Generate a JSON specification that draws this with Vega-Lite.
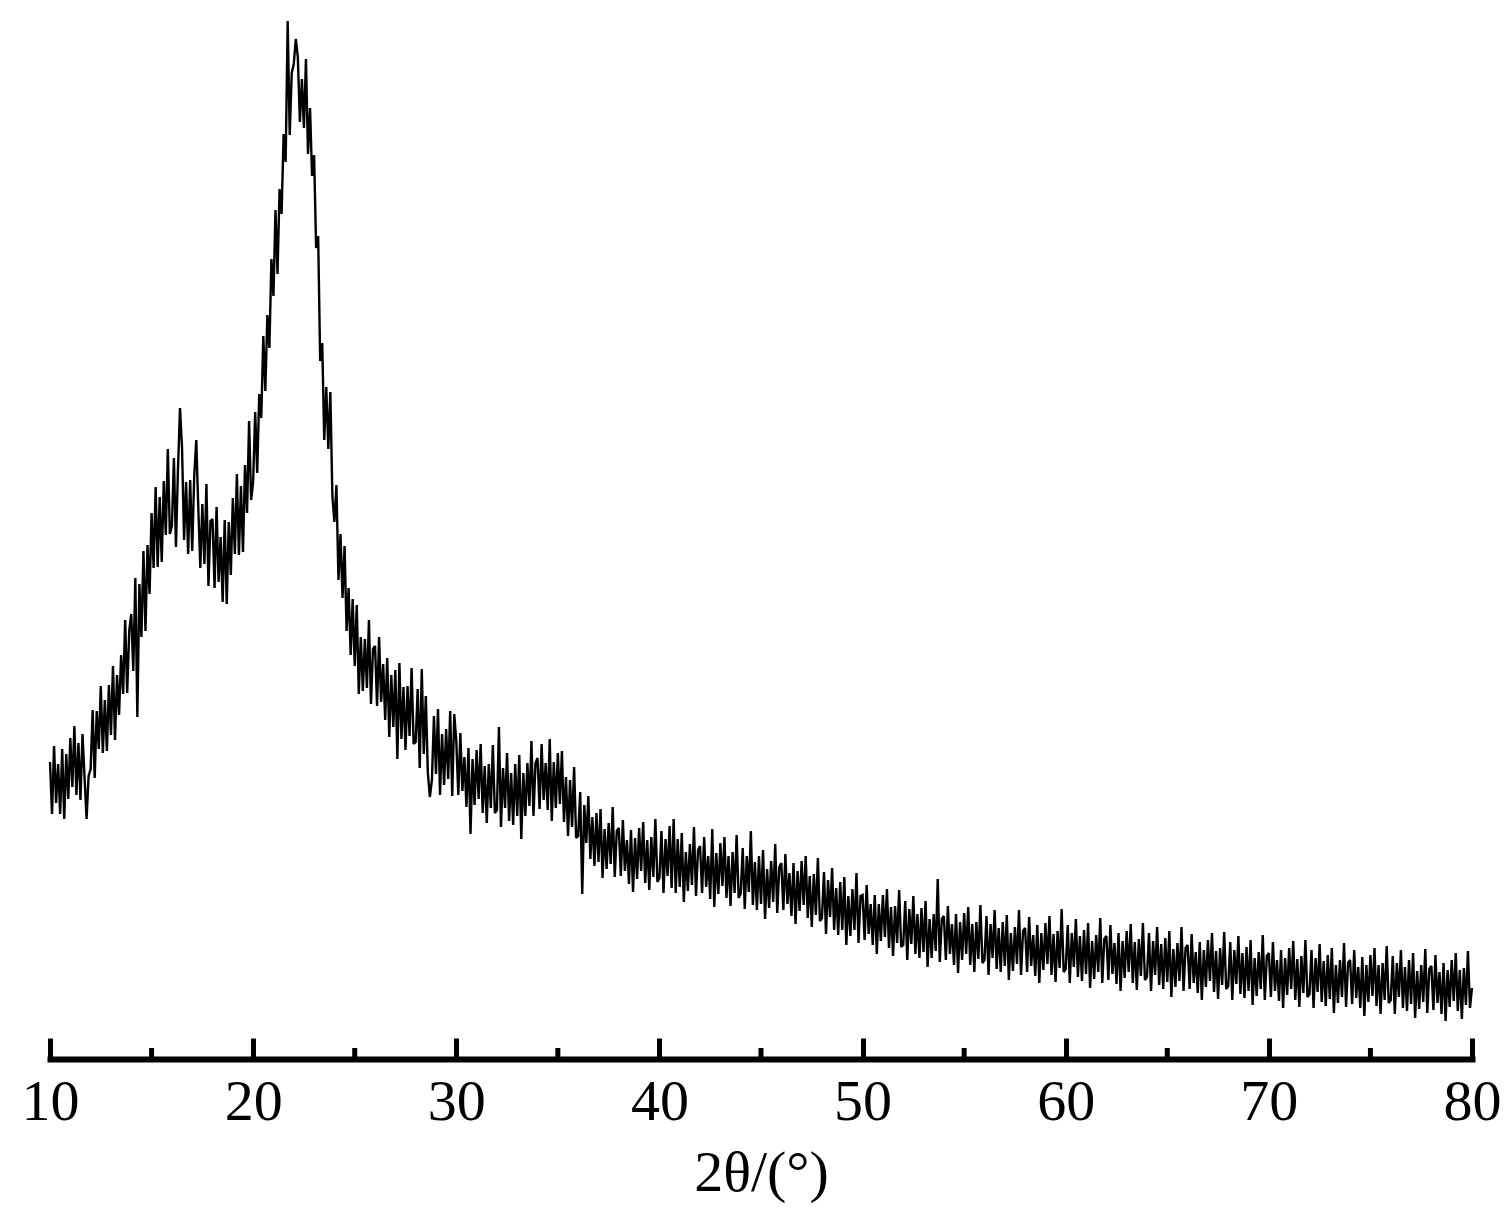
{
"$schema": "https://vega.github.io/schema/vega-lite/v6.json",
"width": 1422,
"height": 1049,
"autosize": {"type": "none"},
"padding": {"left": 50, "top": 10, "right": 40, "bottom": 169},
"background": "white",
"config": {"view": {"stroke": null}},
"datasets": {
"xrd": [
{"x":10.0,"y":297},{"x":10.1,"y":245},{"x":10.2,"y":313},{"x":10.3,"y":256},{"x":10.4,"y":295},{"x":10.5,"y":245},{"x":10.6,"y":310},{"x":10.7,"y":240},{"x":10.8,"y":305},{"x":10.9,"y":260},
{"x":11.0,"y":321},{"x":11.1,"y":272},{"x":11.2,"y":333},{"x":11.3,"y":264},{"x":11.4,"y":316},{"x":11.5,"y":259},{"x":11.6,"y":325},{"x":11.7,"y":282},{"x":11.8,"y":240},{"x":11.9,"y":283},
{"x":12.0,"y":290},{"x":12.1,"y":349},{"x":12.2,"y":281},{"x":12.3,"y":348},{"x":12.4,"y":310},{"x":12.5,"y":373},{"x":12.6,"y":306},{"x":12.7,"y":359},{"x":12.8,"y":308},{"x":12.9,"y":374},
{"x":13.0,"y":324},{"x":13.1,"y":393},{"x":13.2,"y":319},{"x":13.3,"y":384},{"x":13.4,"y":344},{"x":13.5,"y":404},{"x":13.6,"y":365},{"x":13.7,"y":439},{"x":13.8,"y":366},{"x":13.9,"y":428},
{"x":14.0,"y":445},{"x":14.1,"y":388},{"x":14.2,"y":481},{"x":14.3,"y":342},{"x":14.4,"y":475},{"x":14.5,"y":422},{"x":14.6,"y":508},{"x":14.7,"y":428},{"x":14.8,"y":514},{"x":14.9,"y":465},
{"x":15.0,"y":546},{"x":15.1,"y":491},{"x":15.2,"y":572},{"x":15.3,"y":492},{"x":15.4,"y":562},{"x":15.5,"y":497},{"x":15.6,"y":578},{"x":15.7,"y":524},{"x":15.8,"y":610},{"x":15.9,"y":525},
{"x":16.0,"y":533},{"x":16.1,"y":601},{"x":16.2,"y":512},{"x":16.3,"y":590},{"x":16.4,"y":651},{"x":16.5,"y":611},{"x":16.6,"y":519},{"x":16.7,"y":577},{"x":16.8,"y":505},{"x":16.9,"y":579},
{"x":17.0,"y":508},{"x":17.1,"y":583},{"x":17.2,"y":619},{"x":17.3,"y":551},{"x":17.4,"y":491},{"x":17.5,"y":555},{"x":17.6,"y":495},{"x":17.7,"y":575},{"x":17.8,"y":473},{"x":17.9,"y":538},
{"x":18.0,"y":540},{"x":18.1,"y":471},{"x":18.2,"y":552},{"x":18.3,"y":477},{"x":18.4,"y":522},{"x":18.5,"y":457},{"x":18.6,"y":539},{"x":18.7,"y":455},{"x":18.8,"y":537},{"x":18.9,"y":484},
{"x":19.0,"y":561},{"x":19.1,"y":505},{"x":19.2,"y":585},{"x":19.3,"y":504},{"x":19.4,"y":573},{"x":19.5,"y":507},{"x":19.6,"y":594},{"x":19.7,"y":546},{"x":19.8,"y":638},{"x":19.9,"y":559},
{"x":20.0,"y":577},{"x":20.1,"y":647},{"x":20.2,"y":586},{"x":20.3,"y":665},{"x":20.4,"y":641},{"x":20.5,"y":723},{"x":20.6,"y":668},{"x":20.7,"y":744},{"x":20.8,"y":711},{"x":20.9,"y":800},
{"x":21.0,"y":763},{"x":21.1,"y":849},{"x":21.2,"y":785},{"x":21.3,"y":870},{"x":21.4,"y":845},{"x":21.5,"y":925},{"x":21.6,"y":897},{"x":21.7,"y":1038},{"x":21.8,"y":924},{"x":21.9,"y":986},
{"x":22.0,"y":995},{"x":22.1,"y":1020},{"x":22.2,"y":1002},{"x":22.3,"y":937},{"x":22.4,"y":980},{"x":22.5,"y":931},{"x":22.6,"y":1000},{"x":22.7,"y":905},{"x":22.8,"y":951},{"x":22.9,"y":883},
{"x":23.0,"y":904},{"x":23.1,"y":811},{"x":23.2,"y":823},{"x":23.3,"y":698},{"x":23.4,"y":716},{"x":23.5,"y":619},{"x":23.6,"y":672},{"x":23.7,"y":610},{"x":23.8,"y":667},{"x":23.9,"y":563},
{"x":24.0,"y":537},{"x":24.1,"y":574},{"x":24.2,"y":479},{"x":24.3,"y":525},{"x":24.4,"y":461},{"x":24.5,"y":513},{"x":24.6,"y":428},{"x":24.7,"y":471},{"x":24.8,"y":404},{"x":24.9,"y":460},
{"x":25.0,"y":393},{"x":25.1,"y":454},{"x":25.2,"y":365},{"x":25.3,"y":422},{"x":25.4,"y":368},{"x":25.5,"y":420},{"x":25.6,"y":371},{"x":25.7,"y":439},{"x":25.8,"y":355},{"x":25.9,"y":410},
{"x":26.0,"y":413},{"x":26.1,"y":353},{"x":26.2,"y":422},{"x":26.3,"y":357},{"x":26.4,"y":395},{"x":26.5,"y":339},{"x":26.6,"y":401},{"x":26.7,"y":322},{"x":26.8,"y":384},{"x":26.9,"y":332},
{"x":27.0,"y":389},{"x":27.1,"y":300},{"x":27.2,"y":396},{"x":27.3,"y":320},{"x":27.4,"y":372},{"x":27.5,"y":309},{"x":27.6,"y":373},{"x":27.7,"y":323},{"x":27.8,"y":391},{"x":27.9,"y":315},
{"x":28.0,"y":317},{"x":28.1,"y":370},{"x":28.2,"y":291},{"x":28.3,"y":390},{"x":28.4,"y":305},{"x":28.5,"y":363},{"x":28.6,"y":286},{"x":28.7,"y":262},{"x":28.8,"y":279},{"x":28.9,"y":343},
{"x":29.0,"y":285},{"x":29.1,"y":350},{"x":29.2,"y":264},{"x":29.3,"y":325},{"x":29.4,"y":274},{"x":29.5,"y":330},{"x":29.6,"y":280},{"x":29.7,"y":348},{"x":29.8,"y":263},{"x":29.9,"y":345},
{"x":30.0,"y":318},{"x":30.1,"y":264},{"x":30.2,"y":326},{"x":30.3,"y":268},{"x":30.4,"y":302},{"x":30.5,"y":252},{"x":30.6,"y":311},{"x":30.7,"y":225},{"x":30.8,"y":300},{"x":30.9,"y":254},
{"x":31.0,"y":309},{"x":31.1,"y":260},{"x":31.2,"y":315},{"x":31.3,"y":246},{"x":31.4,"y":293},{"x":31.5,"y":236},{"x":31.6,"y":295},{"x":31.7,"y":251},{"x":31.8,"y":314},{"x":31.9,"y":246},
{"x":32.0,"y":249},{"x":32.1,"y":332},{"x":32.2,"y":232},{"x":32.3,"y":291},{"x":32.4,"y":251},{"x":32.5,"y":306},{"x":32.6,"y":238},{"x":32.7,"y":286},{"x":32.8,"y":234},{"x":32.9,"y":295},
{"x":33.0,"y":243},{"x":33.1,"y":304},{"x":33.2,"y":220},{"x":33.3,"y":286},{"x":33.4,"y":243},{"x":33.5,"y":296},{"x":33.6,"y":253},{"x":33.7,"y":318},{"x":33.8,"y":243},{"x":33.9,"y":296},
{"x":34.0,"y":301},{"x":34.1,"y":250},{"x":34.2,"y":315},{"x":34.3,"y":259},{"x":34.4,"y":296},{"x":34.5,"y":249},{"x":34.6,"y":320},{"x":34.7,"y":238},{"x":34.8,"y":297},{"x":34.9,"y":251},
{"x":35.0,"y":306},{"x":35.1,"y":255},{"x":35.2,"y":308},{"x":35.3,"y":237},{"x":35.4,"y":282},{"x":35.5,"y":223},{"x":35.6,"y":279},{"x":35.7,"y":232},{"x":35.8,"y":292},{"x":35.9,"y":221},
{"x":36.0,"y":223},{"x":36.1,"y":267},{"x":36.2,"y":165},{"x":36.3,"y":254},{"x":36.4,"y":216},{"x":36.5,"y":263},{"x":36.6,"y":200},{"x":36.7,"y":242},{"x":36.8,"y":193},{"x":36.9,"y":246},
{"x":37.0,"y":197},{"x":37.1,"y":250},{"x":37.2,"y":181},{"x":37.3,"y":230},{"x":37.4,"y":190},{"x":37.5,"y":236},{"x":37.6,"y":195},{"x":37.7,"y":252},{"x":37.8,"y":182},{"x":37.9,"y":228},
{"x":38.0,"y":231},{"x":38.1,"y":183},{"x":38.2,"y":239},{"x":38.3,"y":188},{"x":38.4,"y":219},{"x":38.5,"y":175},{"x":38.6,"y":229},{"x":38.7,"y":167},{"x":38.8,"y":221},{"x":38.9,"y":180},
{"x":39.0,"y":231},{"x":39.1,"y":188},{"x":39.2,"y":237},{"x":39.3,"y":176},{"x":39.4,"y":219},{"x":39.5,"y":169},{"x":39.6,"y":222},{"x":39.7,"y":182},{"x":39.8,"y":240},{"x":39.9,"y":177},
{"x":40.0,"y":181},{"x":40.1,"y":228},{"x":40.2,"y":166},{"x":40.3,"y":220},{"x":40.4,"y":183},{"x":40.5,"y":233},{"x":40.6,"y":171},{"x":40.7,"y":240},{"x":40.8,"y":166},{"x":40.9,"y":220},
{"x":41.0,"y":172},{"x":41.1,"y":226},{"x":41.2,"y":157},{"x":41.3,"y":207},{"x":41.4,"y":168},{"x":41.5,"y":215},{"x":41.6,"y":174},{"x":41.7,"y":232},{"x":41.8,"y":163},{"x":41.9,"y":209},
{"x":42.0,"y":213},{"x":42.1,"y":166},{"x":42.2,"y":222},{"x":42.3,"y":172},{"x":42.4,"y":203},{"x":42.5,"y":160},{"x":42.6,"y":230},{"x":42.7,"y":152},{"x":42.8,"y":206},{"x":42.9,"y":165},
{"x":43.0,"y":216},{"x":43.1,"y":173},{"x":43.2,"y":222},{"x":43.3,"y":161},{"x":43.4,"y":203},{"x":43.5,"y":153},{"x":43.6,"y":207},{"x":43.7,"y":166},{"x":43.8,"y":224},{"x":43.9,"y":161},
{"x":44.0,"y":165},{"x":44.1,"y":211},{"x":44.2,"y":150},{"x":44.3,"y":203},{"x":44.4,"y":167},{"x":44.5,"y":228},{"x":44.6,"y":154},{"x":44.7,"y":197},{"x":44.8,"y":149},{"x":44.9,"y":203},
{"x":45.0,"y":155},{"x":45.1,"y":209},{"x":45.2,"y":140},{"x":45.3,"y":190},{"x":45.4,"y":151},{"x":45.5,"y":198},{"x":45.6,"y":157},{"x":45.7,"y":215},{"x":45.8,"y":146},{"x":45.9,"y":192},
{"x":46.0,"y":196},{"x":46.1,"y":149},{"x":46.2,"y":205},{"x":46.3,"y":155},{"x":46.4,"y":186},{"x":46.5,"y":143},{"x":46.6,"y":196},{"x":46.7,"y":135},{"x":46.8,"y":188},{"x":46.9,"y":148},
{"x":47.0,"y":198},{"x":47.1,"y":154},{"x":47.2,"y":203},{"x":47.3,"y":141},{"x":47.4,"y":183},{"x":47.5,"y":132},{"x":47.6,"y":185},{"x":47.7,"y":144},{"x":47.8,"y":201},{"x":47.9,"y":138},
{"x":48.0,"y":141},{"x":48.1,"y":187},{"x":48.2,"y":125},{"x":48.3,"y":179},{"x":48.4,"y":142},{"x":48.5,"y":191},{"x":48.6,"y":129},{"x":48.7,"y":171},{"x":48.8,"y":124},{"x":48.9,"y":177},
{"x":49.0,"y":129},{"x":49.1,"y":182},{"x":49.2,"y":114},{"x":49.3,"y":163},{"x":49.4,"y":123},{"x":49.5,"y":170},{"x":49.6,"y":129},{"x":49.7,"y":186},{"x":49.8,"y":116},{"x":49.9,"y":163},
{"x":50.0,"y":164},{"x":50.1,"y":119},{"x":50.2,"y":174},{"x":50.3,"y":125},{"x":50.4,"y":155},{"x":50.5,"y":114},{"x":50.6,"y":164},{"x":50.7,"y":105},{"x":50.8,"y":155},{"x":50.9,"y":118},
{"x":51.0,"y":164},{"x":51.1,"y":122},{"x":51.2,"y":170},{"x":51.3,"y":111},{"x":51.4,"y":152},{"x":51.5,"y":103},{"x":51.6,"y":153},{"x":51.7,"y":116},{"x":51.8,"y":169},{"x":51.9,"y":112},
{"x":52.0,"y":114},{"x":52.1,"y":158},{"x":52.2,"y":99},{"x":52.3,"y":150},{"x":52.4,"y":115},{"x":52.5,"y":163},{"x":52.6,"y":105},{"x":52.7,"y":145},{"x":52.8,"y":101},{"x":52.9,"y":151},
{"x":53.0,"y":107},{"x":53.1,"y":158},{"x":53.2,"y":92},{"x":53.3,"y":140},{"x":53.4,"y":101},{"x":53.5,"y":145},{"x":53.6,"y":108},{"x":53.7,"y":180},{"x":53.8,"y":97},{"x":53.9,"y":140},
{"x":54.0,"y":143},{"x":54.1,"y":99},{"x":54.2,"y":153},{"x":54.3,"y":105},{"x":54.4,"y":135},{"x":54.5,"y":94},{"x":54.6,"y":145},{"x":54.7,"y":86},{"x":54.8,"y":137},{"x":54.9,"y":99},
{"x":55.0,"y":146},{"x":55.1,"y":105},{"x":55.2,"y":152},{"x":55.3,"y":94},{"x":55.4,"y":135},{"x":55.5,"y":87},{"x":55.6,"y":137},{"x":55.7,"y":100},{"x":55.8,"y":154},{"x":55.9,"y":96},
{"x":56.0,"y":99},{"x":56.1,"y":143},{"x":56.2,"y":84},{"x":56.3,"y":135},{"x":56.4,"y":101},{"x":56.5,"y":149},{"x":56.6,"y":90},{"x":56.7,"y":131},{"x":56.8,"y":87},{"x":56.9,"y":137},
{"x":57.0,"y":93},{"x":57.1,"y":144},{"x":57.2,"y":79},{"x":57.3,"y":126},{"x":57.4,"y":88},{"x":57.5,"y":132},{"x":57.6,"y":95},{"x":57.7,"y":149},{"x":57.8,"y":84},{"x":57.9,"y":128},
{"x":58.0,"y":131},{"x":58.1,"y":87},{"x":58.2,"y":142},{"x":58.3,"y":93},{"x":58.4,"y":124},{"x":58.5,"y":83},{"x":58.6,"y":134},{"x":58.7,"y":76},{"x":58.8,"y":126},{"x":58.9,"y":89},
{"x":59.0,"y":136},{"x":59.1,"y":95},{"x":59.2,"y":143},{"x":59.3,"y":84},{"x":59.4,"y":125},{"x":59.5,"y":77},{"x":59.6,"y":128},{"x":59.7,"y":91},{"x":59.8,"y":150},{"x":59.9,"y":87},
{"x":60.0,"y":90},{"x":60.1,"y":134},{"x":60.2,"y":76},{"x":60.3,"y":126},{"x":60.4,"y":92},{"x":60.5,"y":140},{"x":60.6,"y":82},{"x":60.7,"y":123},{"x":60.8,"y":78},{"x":60.9,"y":129},
{"x":61.0,"y":85},{"x":61.1,"y":136},{"x":61.2,"y":71},{"x":61.3,"y":118},{"x":61.4,"y":80},{"x":61.5,"y":124},{"x":61.6,"y":87},{"x":61.7,"y":141},{"x":61.8,"y":76},{"x":61.9,"y":120},
{"x":62.0,"y":123},{"x":62.1,"y":79},{"x":62.2,"y":134},{"x":62.3,"y":85},{"x":62.4,"y":116},{"x":62.5,"y":75},{"x":62.6,"y":126},{"x":62.7,"y":68},{"x":62.8,"y":118},{"x":62.9,"y":81},
{"x":63.0,"y":128},{"x":63.1,"y":87},{"x":63.2,"y":135},{"x":63.3,"y":76},{"x":63.4,"y":117},{"x":63.5,"y":69},{"x":63.6,"y":120},{"x":63.7,"y":83},{"x":63.8,"y":136},{"x":63.9,"y":79},
{"x":64.0,"y":82},{"x":64.1,"y":126},{"x":64.2,"y":68},{"x":64.3,"y":118},{"x":64.4,"y":84},{"x":64.5,"y":132},{"x":64.6,"y":74},{"x":64.7,"y":115},{"x":64.8,"y":70},{"x":64.9,"y":121},
{"x":65.0,"y":77},{"x":65.1,"y":128},{"x":65.2,"y":62},{"x":65.3,"y":110},{"x":65.4,"y":72},{"x":65.5,"y":116},{"x":65.6,"y":78},{"x":65.7,"y":132},{"x":65.8,"y":68},{"x":65.9,"y":111},
{"x":66.0,"y":114},{"x":66.1,"y":70},{"x":66.2,"y":125},{"x":66.3,"y":76},{"x":66.4,"y":107},{"x":66.5,"y":66},{"x":66.6,"y":117},{"x":66.7,"y":59},{"x":66.8,"y":109},{"x":66.9,"y":72},
{"x":67.0,"y":119},{"x":67.1,"y":78},{"x":67.2,"y":126},{"x":67.3,"y":67},{"x":67.4,"y":108},{"x":67.5,"y":60},{"x":67.6,"y":111},{"x":67.7,"y":74},{"x":67.8,"y":127},{"x":67.9,"y":70},
{"x":68.0,"y":73},{"x":68.1,"y":117},{"x":68.2,"y":59},{"x":68.3,"y":109},{"x":68.4,"y":75},{"x":68.5,"y":123},{"x":68.6,"y":65},{"x":68.7,"y":106},{"x":68.8,"y":61},{"x":68.9,"y":112},
{"x":69.0,"y":68},{"x":69.1,"y":119},{"x":69.2,"y":54},{"x":69.3,"y":101},{"x":69.4,"y":63},{"x":69.5,"y":107},{"x":69.6,"y":70},{"x":69.7,"y":124},{"x":69.8,"y":59},{"x":69.9,"y":103},
{"x":70.0,"y":106},{"x":70.1,"y":62},{"x":70.2,"y":117},{"x":70.3,"y":68},{"x":70.4,"y":99},{"x":70.5,"y":58},{"x":70.6,"y":109},{"x":70.7,"y":51},{"x":70.8,"y":101},{"x":70.9,"y":64},
{"x":71.0,"y":111},{"x":71.1,"y":70},{"x":71.2,"y":118},{"x":71.3,"y":59},{"x":71.4,"y":100},{"x":71.5,"y":52},{"x":71.6,"y":103},{"x":71.7,"y":66},{"x":71.8,"y":119},{"x":71.9,"y":62},
{"x":72.0,"y":65},{"x":72.1,"y":109},{"x":72.2,"y":51},{"x":72.3,"y":101},{"x":72.4,"y":67},{"x":72.5,"y":115},{"x":72.6,"y":57},{"x":72.7,"y":98},{"x":72.8,"y":53},{"x":72.9,"y":104},
{"x":73.0,"y":60},{"x":73.1,"y":111},{"x":73.2,"y":46},{"x":73.3,"y":94},{"x":73.4,"y":56},{"x":73.5,"y":99},{"x":73.6,"y":62},{"x":73.7,"y":116},{"x":73.8,"y":52},{"x":73.9,"y":96},
{"x":74.0,"y":99},{"x":74.1,"y":55},{"x":74.2,"y":109},{"x":74.3,"y":61},{"x":74.4,"y":92},{"x":74.5,"y":51},{"x":74.6,"y":102},{"x":74.7,"y":43},{"x":74.8,"y":94},{"x":74.9,"y":57},
{"x":75.0,"y":104},{"x":75.1,"y":63},{"x":75.2,"y":111},{"x":75.3,"y":53},{"x":75.4,"y":94},{"x":75.5,"y":45},{"x":75.6,"y":96},{"x":75.7,"y":59},{"x":75.8,"y":113},{"x":75.9,"y":56},
{"x":76.0,"y":59},{"x":76.1,"y":103},{"x":76.2,"y":45},{"x":76.3,"y":96},{"x":76.4,"y":62},{"x":76.5,"y":109},{"x":76.6,"y":51},{"x":76.7,"y":92},{"x":76.8,"y":48},{"x":76.9,"y":99},
{"x":77.0,"y":55},{"x":77.1,"y":106},{"x":77.2,"y":41},{"x":77.3,"y":88},{"x":77.4,"y":50},{"x":77.5,"y":94},{"x":77.6,"y":57},{"x":77.7,"y":110},{"x":77.8,"y":46},{"x":77.9,"y":90},
{"x":78.0,"y":93},{"x":78.1,"y":49},{"x":78.2,"y":104},{"x":78.3,"y":56},{"x":78.4,"y":87},{"x":78.5,"y":45},{"x":78.6,"y":96},{"x":78.7,"y":38},{"x":78.8,"y":89},{"x":78.9,"y":52},
{"x":79.0,"y":99},{"x":79.1,"y":58},{"x":79.2,"y":106},{"x":79.3,"y":48},{"x":79.4,"y":89},{"x":79.5,"y":40},{"x":79.6,"y":91},{"x":79.7,"y":54},{"x":79.8,"y":108},{"x":79.9,"y":51},
{"x":80.0,"y":71}
],
"minor": [
{"x":15,"y":0,"y2":11},{"x":25,"y":0,"y2":11},{"x":35,"y":0,"y2":11},{"x":45,"y":0,"y2":11},{"x":55,"y":0,"y2":11},{"x":65,"y":0,"y2":11},{"x":75,"y":0,"y2":11}
]
},
"layer": [
{
"data": {"name": "xrd"},
"mark": {"type": "line", "color": "black", "strokeWidth": 2.4, "strokeJoin": "miter", "strokeMiterLimit": 2, "clip": false},
"encoding": {
"x": {"field": "x", "type": "quantitative",
"scale": {"domain": [10, 80], "nice": false, "zero": false},
"axis": {
"values": [10, 20, 30, 40, 50, 60, 70, 80],
"grid": false,
"domainColor": "black", "domainWidth": 6, "domainCap": "square",
"tickColor": "black", "tickWidth": 5, "tickSize": -21,
"labelFont": "Liberation Serif", "labelFontSize": 58, "labelColor": "black",
"labelPadding": 35, "labelFlush": false, "labelOverlap": false,
"title": "2θ/(°)",
"titleFont": "Liberation Serif", "titleFontSize": 58, "titleFontWeight": "normal", "titleColor": "black",
"titlePadding": 13
}
},
"y": {"field": "y", "type": "quantitative",
"scale": {"domain": [0, 1049], "nice": false, "zero": false},
"axis": null
}
}
},
{
"data": {"name": "minor"},
"mark": {"type": "rule", "color": "black", "strokeWidth": 5},
"encoding": {
"x": {"field": "x", "type": "quantitative"},
"y": {"field": "y", "type": "quantitative"},
"y2": {"field": "y2"}
}
}
]
}
